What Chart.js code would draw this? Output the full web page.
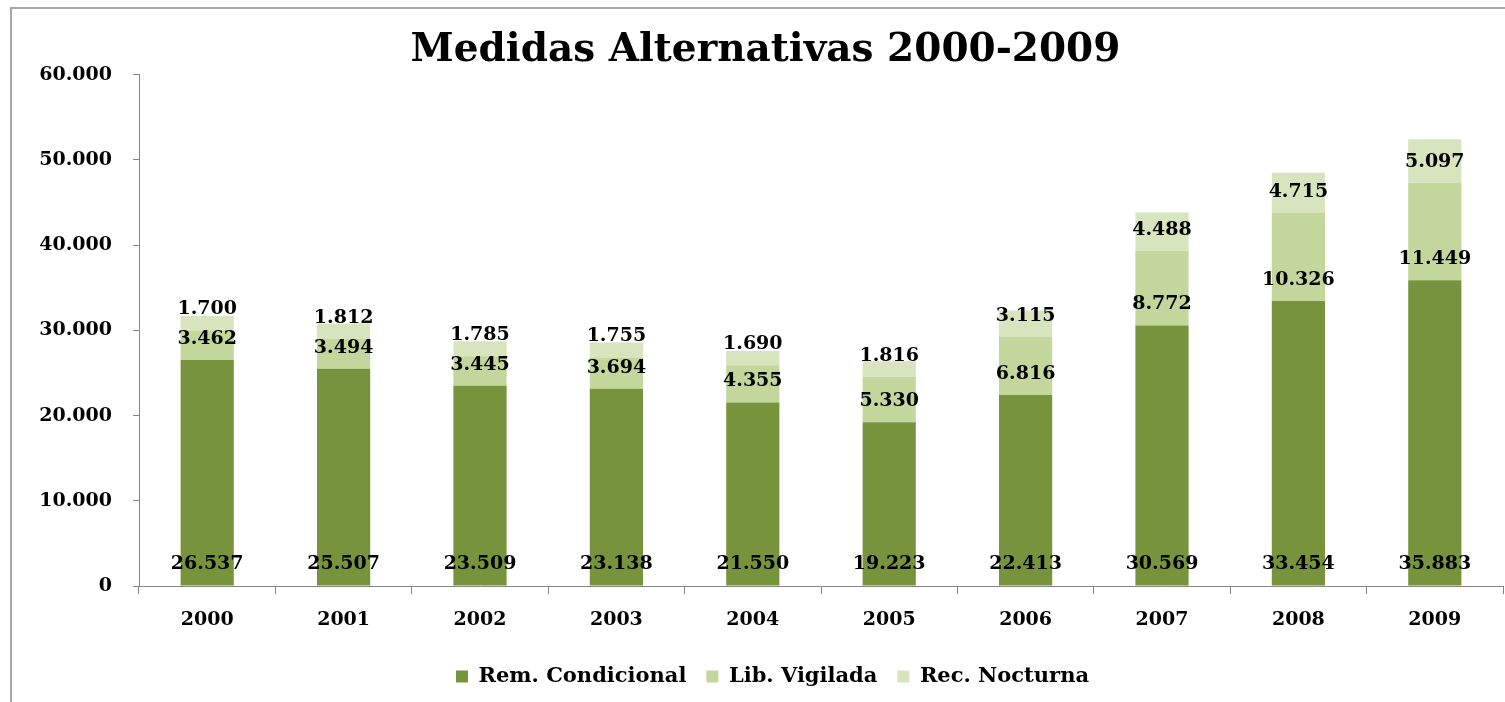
<!DOCTYPE html>
<html>
<head>
<meta charset="utf-8">
<script src="https://cdn.jsdelivr.net/npm/chart.js@4.4.1/dist/chart.umd.min.js"></script>
<style>
  html, body { margin: 0; padding: 0; background: #ffffff; }
  #wrap { position: relative; width: 1505px; height: 702px; overflow: hidden; }
  #frame { position: absolute; left: 10px; top: 7px; width: 1600px; height: 800px; border: 2px solid #a6a6a6; box-sizing: border-box; }
  #holder { position: absolute; left: 0; top: 0; width: 1505px; height: 702px; }
</style>
</head>
<body>
<div id="wrap">
  <div id="frame"></div>
  <div id="holder"><canvas id="c"></canvas></div>
</div>
<script>
const years = ['2000','2001','2002','2003','2004','2005','2006','2007','2008','2009'];
const remCondicional = [26537, 25507, 23509, 23138, 21550, 19223, 22413, 30569, 33454, 35883];
const libVigilada = [3462, 3494, 3445, 3694, 4355, 5330, 6816, 8772, 10326, 11449];
const recNocturna = [1700, 1812, 1785, 1755, 1690, 1816, 3115, 4488, 4715, 5097];
const seriesNames = ['Rem. Condicional', 'Lib. Vigilada', 'Rec. Nocturna'];
const chartTitle = 'Medidas Alternativas 2000-2009';

const SERIF = "'DejaVu Serif', 'Liberation Serif', serif";
const TITLE_SHIFT = 14;
const LEGEND_SHIFT = 21;

function fmt(n) {
  return String(Math.round(n)).replace(/\B(?=(\d{3})+(?!\d))/g, '.');
}

const baseLabels = {
  id: 'baseLabels',
  afterDatasetsDraw(chart) {
    const ctx = chart.ctx;
    ctx.save();
    ctx.font = "bold 19px " + SERIF;
    ctx.fillStyle = '#000000';
    ctx.textAlign = 'center';
    ctx.textBaseline = 'middle';
    chart.data.datasets.forEach((ds, di) => {
      const meta = chart.getDatasetMeta(di);
      meta.data.forEach((el, i) => {
        const p = el.getProps(['x', 'base'], true);
        ctx.fillText(fmt(ds.data[i]), p.x, p.base - 21);
      });
    });
    ctx.restore();
  }
};

const shiftBlocks = {
  id: 'shiftBlocks',
  afterLayout(chart) {
    if (chart.titleBlock) { chart.titleBlock.left += TITLE_SHIFT; chart.titleBlock.right += TITLE_SHIFT; }
    if (chart.legend) { chart.legend.left += LEGEND_SHIFT; chart.legend.right += LEGEND_SHIFT; }
  }
};

new Chart(document.getElementById('c'), {
  type: 'bar',
  data: {
    labels: years,
    datasets: [
      { label: seriesNames[0], data: remCondicional, backgroundColor: '#77933C' },
      { label: seriesNames[1], data: libVigilada, backgroundColor: '#C3D69B' },
      { label: seriesNames[2], data: recNocturna, backgroundColor: '#D7E4BD' }
    ]
  },
  options: {
    responsive: true,
    maintainAspectRatio: false,
    animation: false,
    layout: { padding: { left: 0, right: 2, top: 0, bottom: 5 } },
    datasets: { bar: { categoryPercentage: 1.0, barPercentage: 0.39 } },
    plugins: {
      title: {
        display: true,
        text: chartTitle,
        color: '#000000',
        font: { family: SERIF, size: 39, weight: 'bold', lineHeight: 1.2 },
        padding: { top: 27, bottom: 1 }
      },
      legend: {
        position: 'bottom',
        labels: {
          color: '#000000',
          font: { family: SERIF, size: 21, weight: 'bold' },
          boxWidth: 12,
          boxHeight: 12,
          padding: 20
        }
      },
      tooltip: { enabled: false }
    },
    scales: {
      x: {
        stacked: true,
        afterFit(scale) { scale.height = 60; },
        grid: { display: true, drawOnChartArea: false, offset: true, tickLength: 8, color: '#868686' },
        border: { color: '#868686', width: 1 },
        ticks: { color: '#000000', font: { family: SERIF, size: 19, weight: 'bold' }, padding: 15, maxRotation: 0 }
      },
      y: {
        stacked: true,
        min: 0,
        max: 60000,
        afterFit(scale) { scale.width = 139; },
        grid: { display: true, drawOnChartArea: false, tickLength: 6, color: '#868686' },
        border: { color: '#868686', width: 1 },
        ticks: {
          stepSize: 10000,
          color: '#000000',
          font: { family: SERIF, size: 19, weight: 'bold' },
          padding: 21,
          callback: (v) => fmt(v)
        }
      }
    }
  },
  plugins: [baseLabels, shiftBlocks]
});
</script>
</body>
</html>
